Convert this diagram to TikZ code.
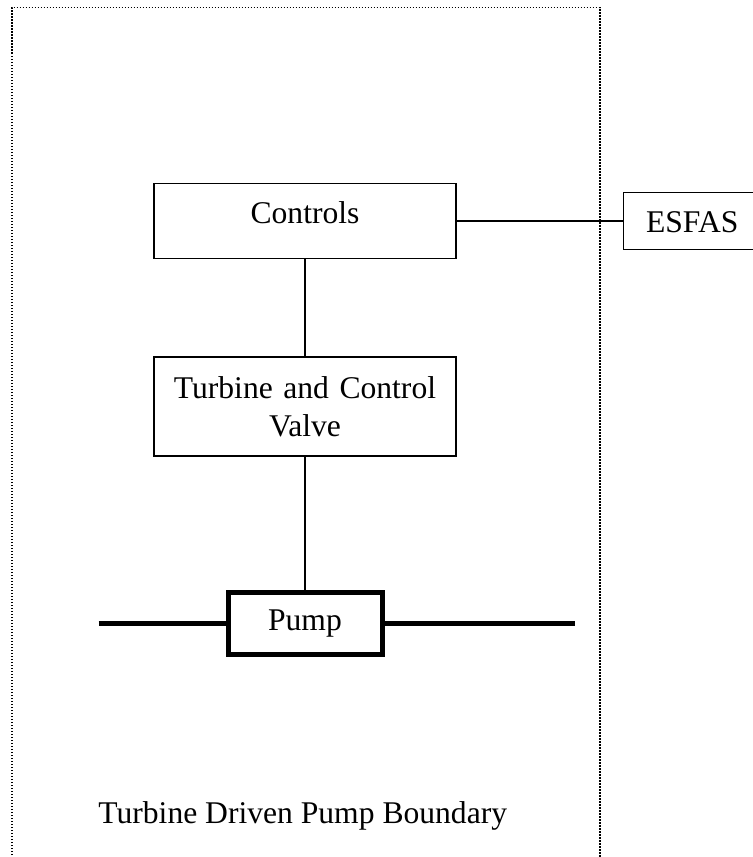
\documentclass[tikz,border=0pt]{standalone}
\usepackage{fontspec}
\setmainfont{Liberation Serif}
\usetikzlibrary{positioning}

\begin{document}
\begin{tikzpicture}[x=0.5pt,y=-0.5pt,font=\fontsize{15.8}{19}\selectfont,
    unit/.style={draw,line width=0.75pt,minimum width=151pt,inner sep=0pt},
    wire/.style={line width=0.75pt},
    pipe/.style={line width=2.5pt},
    boundary/.style={line width=0.75pt,dash pattern=on 0.75pt off 0.75pt}] %
    \useasboundingbox (0,0) rectangle (753,857);
    \clip (0,0) rectangle (753,857);
    \draw[boundary] (12,870) -- (12,7.5) -- (600,7.5) -- (600,870) ; % open at the bottom
    \node[unit,text height=19.9pt,text depth=17.6pt] (controls) at (305,221) {Controls} ; %
    \node[unit,right=83pt of controls,minimum width=0pt,inner xsep=11.25pt,text height=19.75pt,text depth=8.75pt] (esfas) {\makebox[110pt][l]{ESFAS}} ; % runs off the page
    \node[unit,below=48.5pt of controls,minimum height=49.5pt,text width=140pt,align=center] (turbine) {Turbine and Control\\Valve} ; %
    \node[draw,line width=2.5pt,minimum width=77pt,minimum height=31pt,inner sep=0pt,below=66.5pt of turbine] (pump) {Pump} ;
    \coordinate[left=63.5pt of pump.west] (inlet) ;
    \coordinate[right=95pt of pump.east] (outlet) ;
    \node[anchor=base west,inner sep=0pt] (boundarylabel) at (98,823) {Turbine Driven Pump Boundary} ;
    \draw[wire] (controls)--(esfas) ; %
    \draw[wire] (controls)--(turbine) ;
    \draw[wire] (turbine)--(pump) ;
    \draw[pipe] (inlet)--(pump) ;
    \draw[pipe] (pump)--(outlet) ;
  \end{tikzpicture}
\end{document}
